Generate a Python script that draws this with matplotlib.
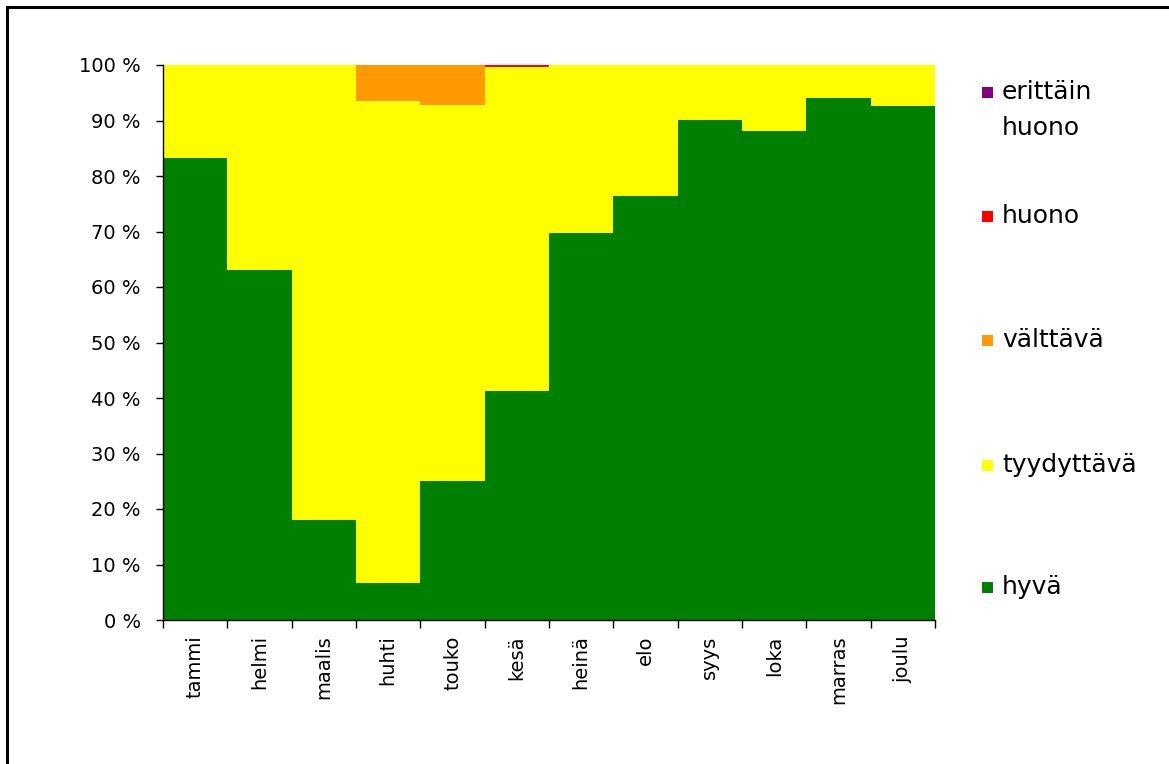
import matplotlib
matplotlib.use("Agg")
import matplotlib.pyplot as plt
from matplotlib.lines import Line2D
from matplotlib.patches import Rectangle
import numpy as np

plt.rcParams['font.family'] = ['DejaVu Sans']

months = ["tammi", "helmi", "maalis", "huhti", "touko", "kesä",
          "heinä", "elo", "syys", "loka", "marras", "joulu"]
series_names = ["hyvä", "tyydyttävä", "välttävä", "huono", "erittäin\nhuono"]
colors = ["#008000", "#FFFF00", "#FF9900", "#FF0000", "#800080"]

hyva = [83.3, 63.1, 18.0, 6.6, 25.0, 41.3, 69.7, 76.4, 90.1, 88.1, 94.1, 92.6]
tyydyttava = [16.7, 36.9, 82.0, 86.9, 67.8, 58.4, 30.3, 23.6, 9.9, 11.9, 5.9, 7.4]
valttava = [0, 0, 0, 6.5, 7.2, 0, 0, 0, 0, 0, 0, 0]
huono = [0, 0, 0, 0, 0, 0.3, 0, 0, 0, 0, 0, 0]
erittain_huono = [0, 0, 0, 0, 0, 0, 0, 0, 0, 0, 0, 0]

W, H = 1169, 764
fig = plt.figure(figsize=(W / 100, H / 100), dpi=100)
ax = fig.add_axes([163 / W, (H - 620) / H, (935 - 163) / W, (620 - 65) / H])

x = np.arange(len(months))
bottom = np.zeros(len(months))
for vals, c in zip([hyva, tyydyttava, valttava, huono, erittain_huono], colors):
    ax.bar(x, vals, width=1.0, bottom=bottom, color=c, linewidth=0)
    bottom += np.array(vals)

ax.set_xlim(-0.5, len(months) - 0.5)
ax.set_ylim(0, 100)

ax.set_yticks(np.arange(0, 101, 10))
ax.set_yticklabels([f"{v} %" for v in range(0, 101, 10)], fontsize=14)
ax.tick_params(axis="y", direction="out", length=5, width=1, pad=11)

# category ticks sit between the bars, labels at the bar centres
ax.set_xticks(np.arange(-0.5, len(months), 1.0))
ax.set_xticklabels([])
ax.set_xticks(x, minor=True)
ax.set_xticklabels(months, minor=True, rotation=90, fontsize=14, va="top")
ax.tick_params(axis="x", which="major", direction="out", length=6, width=1)
ax.tick_params(axis="x", which="minor", length=0, pad=11)

for s in ["top", "right"]:
    ax.spines[s].set_visible(False)
for s in ["left", "bottom"]:
    ax.spines[s].set_linewidth(1)

# legend drawn by hand, top entry first
leg_y = [92, 216, 340, 465, 587]
for name, c, yy in zip(series_names[::-1], colors[::-1], leg_y):
    fig.patches.append(Rectangle((982 / W, (H - yy - 6) / H), 11 / W, 11 / H,
                                 transform=fig.transFigure, facecolor=c,
                                 edgecolor="none"))
    for i, ln in enumerate(name.split("\n")):
        fig.text(1002 / W, (H - yy - i * 36) / H, ln, fontsize=18,
                 va="center", ha="left")

# outer frame
fig.add_artist(Line2D([7 / W, 7 / W], [0, (H - 7) / H], color="black", lw=2.2,
                      transform=fig.transFigure))
fig.add_artist(Line2D([7 / W, 1], [(H - 7) / H, (H - 7) / H], color="black", lw=2.2,
                      transform=fig.transFigure))

fig.savefig("out.png", dpi=100)
